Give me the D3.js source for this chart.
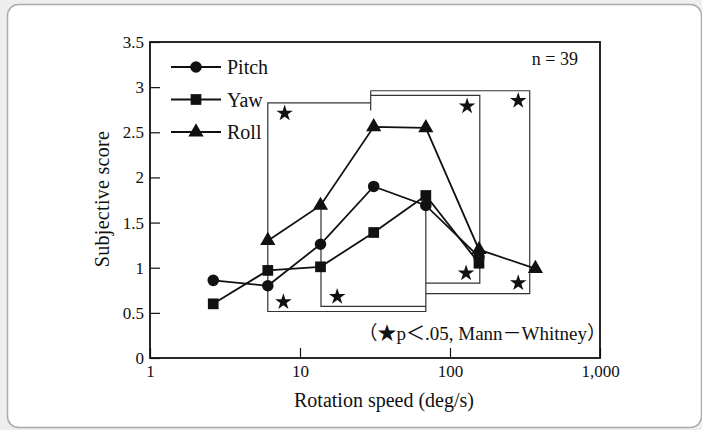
<!DOCTYPE html>
<html>
<head>
<meta charset="utf-8">
<script src="https://cdn.jsdelivr.net/npm/d3@7"></script>
<style>
  body { margin: 0; background: #eeeeee; }
  text { font-family: "Liberation Serif", "Noto Sans CJK JP", serif; fill: #111; }
</style>
</head>
<body>
<div id="chart"></div>
<script>
// rotation speeds (deg/s), shared by all three series
const speeds = [2.64, 6.1, 13.7, 31, 69, 156, 371];
const pitch = [0.86, 0.80, 1.26, 1.90, 1.69, 1.12, null];
const yaw   = [0.60, 0.97, 1.01, 1.39, 1.80, 1.05, null];
const roll  = [null, 1.30, 1.69, 2.56, 2.55, 1.20, 0.99];

const yTicks = [0, 0.5, 1, 1.5, 2, 2.5, 3, 3.5];
const xTicks = [1, 10, 100, 1000];

// significance markers
const starSpeed = [7.9, 7.75, 17.7, 130, 128, 285, 285];
const starScore = [2.71, 0.62, 0.68, 2.79, 0.94, 2.85, 0.83];

// comparison brackets, as [speed, score] polylines
const brackets = [
  [[29.6, 2.74], [29.6, 2.96]],
  [[29.6, 2.825], [6.1, 2.825], [6.1, 0.515], [69, 0.515], [69, 1.675]],
  [[13.8, 1.69], [13.8, 0.572], [69, 0.572]],
  [[29.6, 2.908], [158, 2.908], [158, 0.83], [69, 0.83]],
  [[29.6, 2.96], [340, 2.96], [340, 0.712], [69, 0.712]]
];

const width = 702, height = 430;
const margin = { top: 42, right: 102, bottom: 72, left: 150 };

const svg = d3.select("#chart").append("svg")
    .attr("width", width)
    .attr("height", height);

// card background
svg.append("rect")
    .attr("x", 7.5).attr("y", 4.5)
    .attr("width", 694).attr("height", 423)
    .attr("rx", 11)
    .attr("fill", "#fff")
    .attr("stroke", "#aaa")
    .attr("stroke-width", 1.5);

const x = d3.scaleLog().domain([1, 1000]).range([margin.left, width - margin.right]);
const y = d3.scaleLinear().domain([0, 3.5]).range([height - margin.bottom, margin.top]);

// axes with inward ticks
const yAxis = svg.append("g")
    .attr("transform", `translate(${margin.left},0)`)
    .call(d3.axisLeft(y).tickValues(yTicks).tickSize(-10).tickPadding(6).tickFormat(d => String(d)));
const xAxis = svg.append("g")
    .attr("transform", `translate(0,${height - margin.bottom})`)
    .call(d3.axisBottom(x).tickValues(xTicks).tickSize(-10).tickPadding(7).tickFormat(d3.format(",")));

[yAxis, xAxis].forEach(g => {
    g.select(".domain").remove();
    g.selectAll(".tick line").attr("stroke", "#111").attr("stroke-width", 1.2);
    g.selectAll(".tick text").attr("font-size", 17).attr("fill", "#111")
        .style("font-family", "'Liberation Serif', serif");
});

// plot frame
svg.append("rect")
    .attr("x", x(1)).attr("y", y(3.5))
    .attr("width", x(1000) - x(1)).attr("height", y(0) - y(3.5))
    .attr("fill", "none")
    .attr("stroke", "#111")
    .attr("stroke-width", 1.8);

// brackets
const bracketLine = d3.line().x(d => x(d[0])).y(d => y(d[1]));
svg.append("g").selectAll("path")
    .data(brackets)
    .join("path")
    .attr("d", bracketLine)
    .attr("fill", "none")
    .attr("stroke", "#333")
    .attr("stroke-width", 1.2);

// stars
svg.append("g").selectAll("path")
    .data(starSpeed.map((s, i) => [s, starScore[i]]))
    .join("path")
    .attr("transform", d => `translate(${x(d[0])},${y(d[1])})`)
    .attr("d", d3.symbol(d3.symbolStar, 85))
    .attr("fill", "#111");

// series
const series = [
    { name: "Pitch", values: pitch, symbol: d3.symbolCircle, size: 105 },
    { name: "Yaw", values: yaw, symbol: d3.symbolSquare, size: 115 },
    { name: "Roll", values: roll, symbol: d3.symbolTriangle, size: 100 }
];

const line = d3.line()
    .defined(d => d[1] != null)
    .x(d => x(d[0])).y(d => y(d[1]));

series.forEach(s => {
    const pts = speeds.map((sp, i) => [sp, s.values[i]]);
    svg.append("path")
        .datum(pts)
        .attr("d", line)
        .attr("fill", "none")
        .attr("stroke", "#111")
        .attr("stroke-width", 1.8);
    svg.append("g").selectAll("path")
        .data(pts.filter(d => d[1] != null))
        .join("path")
        .attr("transform", d => `translate(${x(d[0])},${y(d[1])})`)
        .attr("d", d3.symbol(s.symbol, s.size))
        .attr("fill", "#111");
});

// legend
const legend = svg.append("g").attr("transform", "translate(171,67)");
series.forEach((s, i) => {
    const g = legend.append("g").attr("transform", `translate(0,${i * 32.5})`);
    g.append("line").attr("x1", 0).attr("x2", 50)
        .attr("stroke", "#111").attr("stroke-width", 1.8);
    g.append("path").attr("transform", "translate(25,0)")
        .attr("d", d3.symbol(s.symbol, s.size)).attr("fill", "#111");
    g.append("text").attr("x", 56).attr("dy", "0.35em")
        .attr("font-size", 20).text(s.name);
});

// annotations
svg.append("text")
    .attr("x", 578).attr("y", 59).attr("dy", "0.35em")
    .attr("text-anchor", "end").attr("font-size", 18)
    .text("n = 39");

svg.append("text")
    .attr("x", 606).attr("y", 333).attr("dy", "0.35em")
    .attr("text-anchor", "end").attr("font-size", 19)
    .text("（★p＜.05, Mann－Whitney）");

// axis titles
svg.append("text")
    .attr("x", 384).attr("y", 400).attr("dy", "0.35em")
    .attr("text-anchor", "middle").attr("font-size", 20)
    .text("Rotation speed (deg/s)");

svg.append("text")
    .attr("transform", "translate(102,199) rotate(-90)")
    .attr("dy", "0.35em")
    .attr("text-anchor", "middle").attr("font-size", 20)
    .attr("letter-spacing", 0.3)
    .text("Subjective score");
</script>
</body>
</html>
